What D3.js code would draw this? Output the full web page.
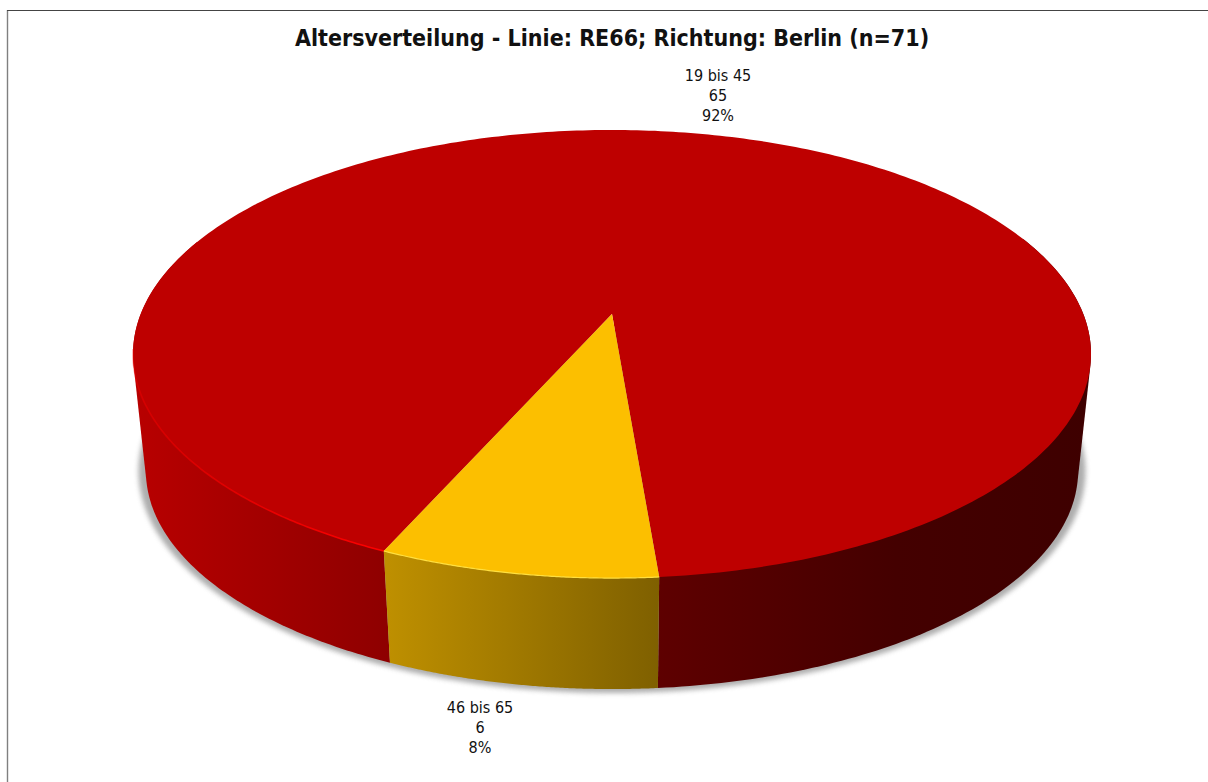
<!DOCTYPE html>
<html><head><meta charset="utf-8">
<script src="https://cdn.jsdelivr.net/npm/d3@7"></script>
<style>html,body{margin:0;padding:0;background:#fff;overflow:hidden}svg{display:block}
text{font-family:"DejaVu Sans Condensed","DejaVu Sans",sans-serif;fill:#111}</style></head>
<body><svg id="c" width="1208" height="782"></svg>
<script>
const title = "Altersverteilung - Linie: RE66; Richtung: Berlin (n=71)";
const categories = ["19 bis 45", "46 bis 65"];
const values = [65, 6];
const percents = ["92%", "8%"];

const W = 1208, H = 782;
const svg = d3.select("#c");
const defs = svg.append("defs");

// perspective model of the disc
const cx = 612, cy = 314, a = 216.9, b = 471.3, k = 0.1786;
const wallScale = 0.973, vanishY = 4689;
const rad = d => d * Math.PI / 180;
const rot = rad(204.8), mid = rad(189.6), warp = rad(-1.78);

const top3d = t0 => {
  const t = t0 + warp * Math.sin(2 * (t0 - mid));
  const X = Math.sin(t), Z = -Math.cos(t), w = 1 - k * Z;
  return [cx + b * X / w, cy + a * Z / w];
};
const bottom3d = t => {
  const [x, y] = top3d(t);
  return [cx + (x - cx) * wallScale, vanishY + (y - vanishY) * wallScale];
};
const arcs = d3.pie().sort(null).startAngle(rot).endAngle(rot + 2 * Math.PI)(values);
const line = d3.line();
const samples = (t0, t1) => d3.range(0, 121).map(i => t0 + (t1 - t0) * i / 120);

// gradients
function grad(id, x1, x2, stops) {
  const g = defs.append("linearGradient").attr("id", id).attr("gradientUnits", "userSpaceOnUse")
    .attr("x1", x1).attr("x2", x2).attr("y1", 0).attr("y2", 0);
  stops.forEach(s => g.append("stop").attr("offset", s[0]).attr("stop-color", s[1]));
}
grad("wallL", 134, 389, [[0, "#b80000"], [1, "#8e0000"]]);
grad("wallR", 658, 1090, [[0, "#5e0000"], [0.55, "#440000"], [1, "#3e0000"]]);
grad("wallY", 384, 659, [[0, "#bf9000"], [1, "#7f6000"]]);
const rimG = defs.append("linearGradient").attr("id", "rimL").attr("gradientUnits", "userSpaceOnUse")
  .attr("x1", 134).attr("x2", 384).attr("y1", 0).attr("y2", 0);
rimG.append("stop").attr("offset", 0).attr("stop-color", "#ff0000").attr("stop-opacity", 0.35);
rimG.append("stop").attr("offset", 1).attr("stop-color", "#ff0000").attr("stop-opacity", 1);
const blur = defs.append("filter").attr("id", "sh").attr("x", "-5%").attr("y", "-5%").attr("width", "110%").attr("height", "110%");
blur.append("feGaussianBlur").attr("stdDeviation", 2.6);

// frame
svg.append("line").attr("x1", 7.5).attr("x2", 7.5).attr("y1", 10).attr("y2", H).attr("stroke", "#808080").attr("stroke-width", 1.4);
svg.append("line").attr("x1", 7).attr("x2", W).attr("y1", 10.5).attr("y2", 10.5).attr("stroke", "#444").attr("stroke-width", 1);

// silhouette of a wall section: convex hull of its top and bottom rims
const wallPath = (t0, t1) => {
  const s = samples(t0, t1);
  return line(d3.polygonHull(s.map(top3d).concat(s.map(bottom3d)))) + "Z";
};

const yellow = arcs[1];
const frontLeft = yellow.endAngle - 2 * Math.PI, frontRight = yellow.startAngle - 2 * Math.PI;

// shadow
const shadowPts = samples(rad(60), rad(300)).map(bottom3d)
  .map(([x, y]) => [cx + (x - cx) * 1.016, 471 + (y - 471) * 1.018]);
svg.append("path").attr("d", line(shadowPts) + "Z").attr("fill", "#777").attr("opacity", 0.6).attr("filter", "url(#sh)");

// walls
svg.append("path").attr("d", wallPath(rad(70), frontRight)).attr("fill", "url(#wallR)");
svg.append("path").attr("d", wallPath(frontLeft, rad(290))).attr("fill", "url(#wallL)");
svg.append("path").attr("d", wallPath(frontRight, frontLeft)).attr("fill", "url(#wallY)");

// top face
const sliceColors = ["#be0000", "#fcbf00"];
svg.selectAll("path.slice").data(arcs).join("path").attr("class", "slice")
  .attr("fill", (d, i) => sliceColors[i])
  .attr("d", d => line([[cx, cy]].concat(d3.range(0, 361).map(i => top3d(d.startAngle + (d.endAngle - d.startAngle) * i / 360)))) + "Z");

// rim highlights
svg.append("path").attr("d", line(samples(frontLeft, rad(262)).map(top3d))).attr("fill", "none")
  .attr("stroke", "url(#rimL)").attr("stroke-width", 1.6);
svg.append("path").attr("d", line(samples(frontRight, frontLeft).map(top3d))).attr("fill", "none")
  .attr("stroke", "#ffdf40").attr("stroke-width", 1.2);

// texts
svg.append("text").attr("x", 612).attr("y", 46).attr("text-anchor", "middle")
  .attr("font-size", 23).attr("font-weight", 700).text(title);
const labelPos = [[718, 81], [480, 713]];
categories.forEach((c, i) => {
  [c, String(values[i]), percents[i]].forEach((s, j) => {
    svg.append("text").attr("x", labelPos[i][0]).attr("y", labelPos[i][1] + j * 20.2)
      .attr("text-anchor", "middle").attr("font-size", 16).text(s);
  });
});
</script></body></html>
